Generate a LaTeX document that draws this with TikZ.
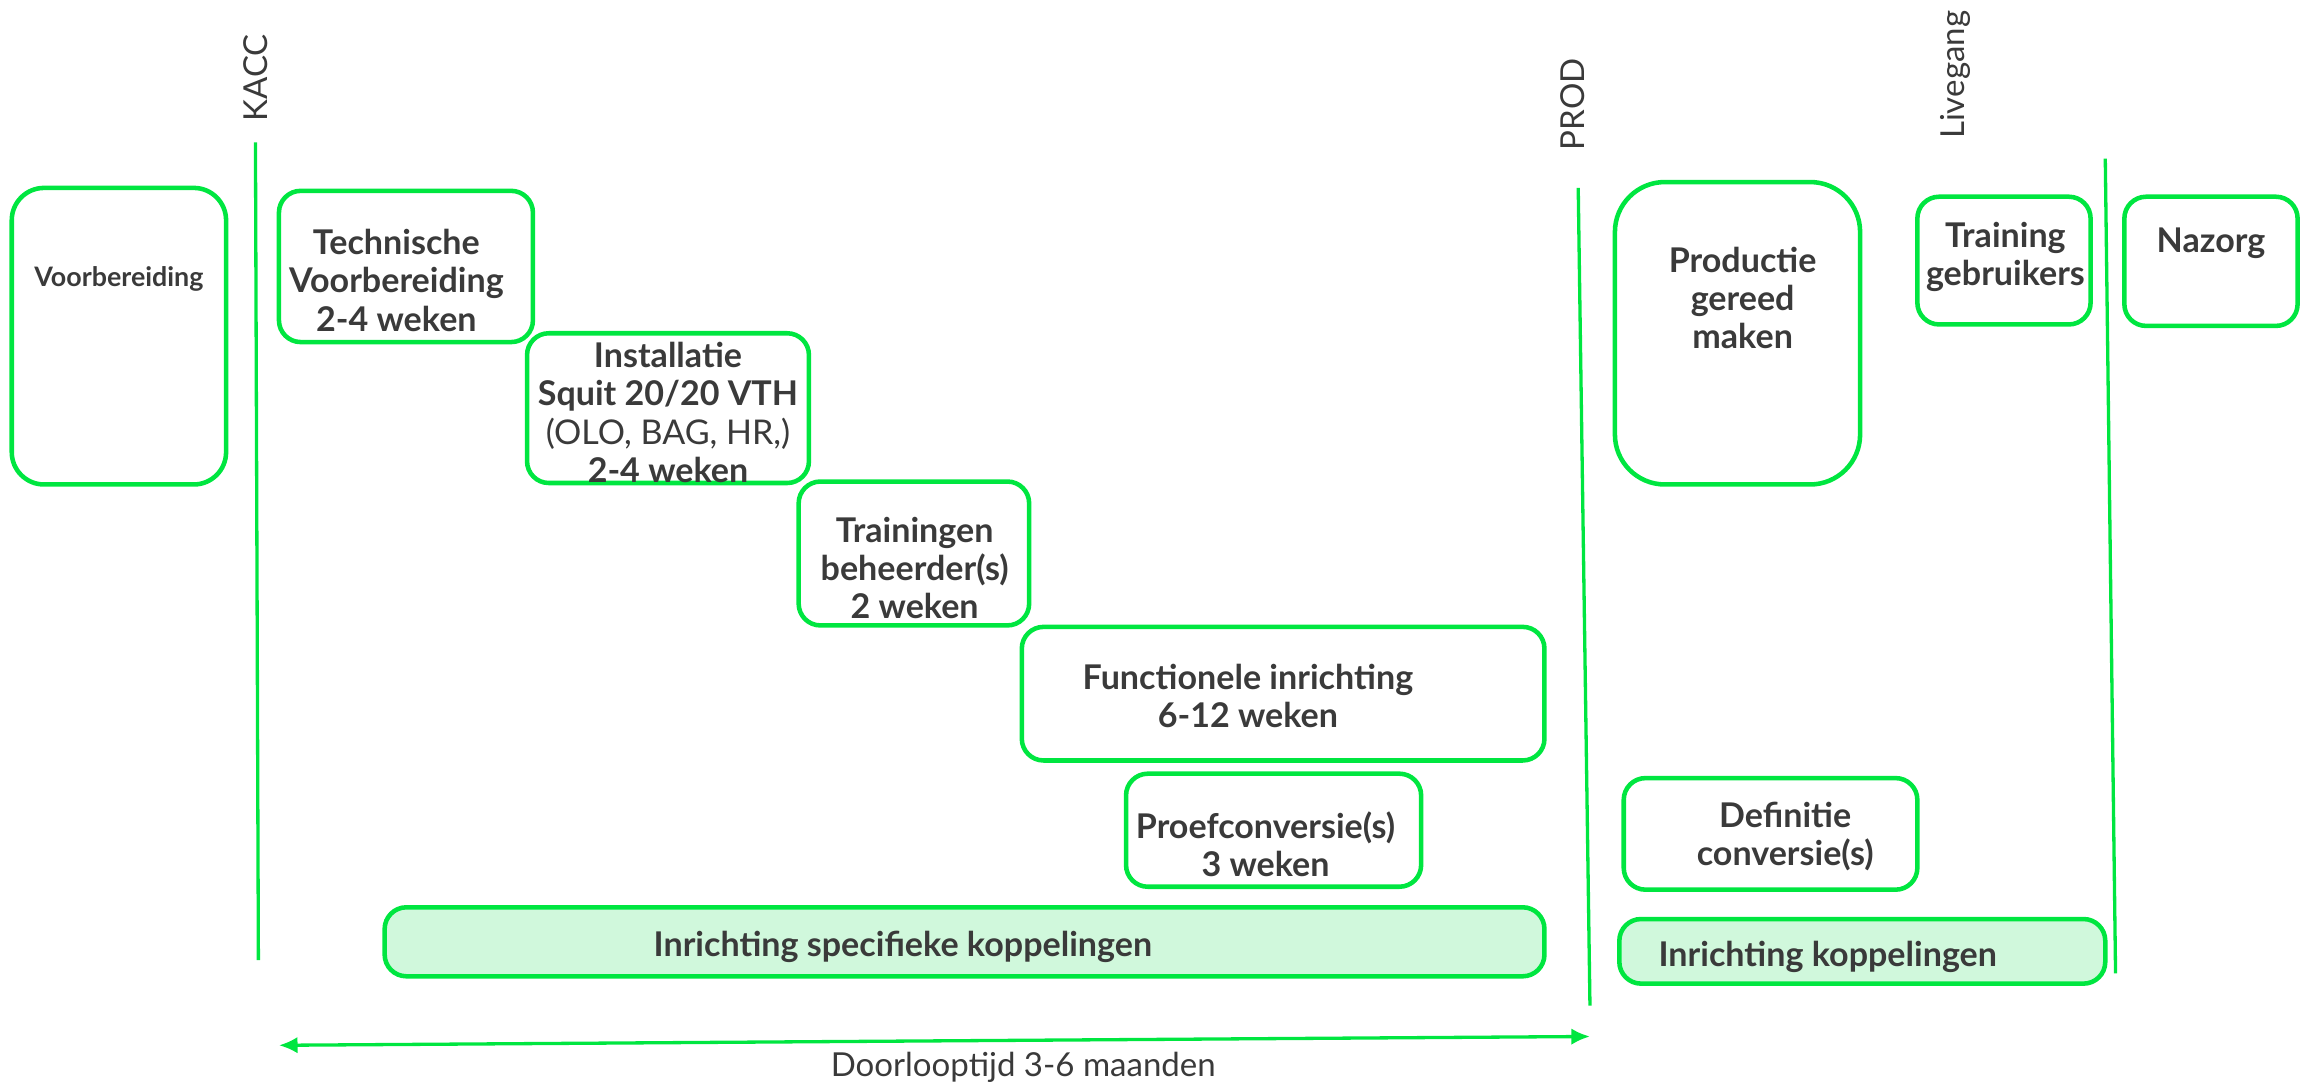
\documentclass[tikz,border=0pt]{standalone}
\usepackage{fontspec}
\setmainfont{Lato}
\usetikzlibrary{arrows.meta}
\definecolor{fasegroen}{HTML}{00E640}
\definecolor{lichtgroen}{HTML}{D0F8DC}
\definecolor{tekstgrijs}{HTML}{3A3A3A}

\begin{document}
\begin{tikzpicture}[x=0.025cm,y=-0.025cm,
  fase/.style={draw=fasegroen,line width=2.2pt,rounded corners=0.37cm},
  koppeling/.style={fase,fill=lichtgroen},
  mijlpaal/.style={draw=fasegroen,line width=1.6pt},
  tekst/.style={text=tekstgrijs,inner sep=0pt,align=center,
    font=\fontsize{16.5}{18.5}\selectfont\bfseries},
  mijltekst/.style={text=tekstgrijs,inner sep=0pt,rotate=90,
    font=\fontsize{16}{19}\selectfont}]
\useasboundingbox (0,0) rectangle (1568,741);

% Milestone lines
\draw[mijlpaal] (174,97) -- (176,654);
\draw[mijlpaal] (1075,128) -- (1083,685);
\draw[mijlpaal] (1434,108) -- (1441,663);
\node[mijltekst] (kacc) at (174,53) {KACC};
\node[mijltekst] (prod) at (1071,71) {PROD};
\node[mijltekst] (livegang) at (1332,51) {Livegang};

% Preparation
\draw[fase,rounded corners=0.55cm] (8,128) rectangle (154,330);
\node[tekst,font=\fontsize{13}{15}\selectfont\bfseries] (voorb) at (81,190) {Voorbereiding};

% KACC phases
\draw[fase] (190,130) rectangle (363,233);
\node[tekst] (techvoorb) at (270,191) {Technische\\Voorbereiding\\2-4 weken};
\draw[fase] (359,227) rectangle (551,329);
\node[tekst] (install) at (455,281) {Installatie\\Squit 20/20 VTH\\{\mdseries(OLO, BAG, HR,)}\\2-4 weken};
\draw[fase] (544,328) rectangle (701,426);
\node[tekst] (trainbeh) at (623,387) {Trainingen\\beheerder(s)\\2 weken};
\draw[fase] (696,427) rectangle (1052,518);
\node[tekst] (functioneel) at (850,474) {Functionele inrichting\\6-12 weken};
\draw[fase] (767,527) rectangle (968,604);
\node[tekst] (proefconv) at (862,575) {Proefconversie(s)\\3 weken};
\draw[koppeling] (262,618) rectangle (1052,665);
\node[tekst] (specifiek) at (615,645) {Inrichting specifieke koppelingen};

% PROD phases
\draw[fase,rounded corners=0.85cm] (1100,124) rectangle (1267,330);
\node[tekst] (productie) at (1187,203) {Productie\\gereed\\maken};
\draw[fase] (1306,134) rectangle (1424,221);
\node[tekst] (traingebr) at (1366,175) {Training\\gebruikers};
\draw[fase] (1447,134) rectangle (1565,222);
\node[tekst] (nazorg) at (1506,166) {Nazorg};
\draw[fase] (1106,530) rectangle (1306,606);
\node[tekst] (defconv) at (1216,570) {Definitie\\conversie(s)};
\draw[koppeling] (1103,626) rectangle (1434,670);
\node[tekst] (koppelingen) at (1245,652) {Inrichting koppelingen};

% Lead time
\coordinate (start) at (190,712);
\coordinate (eind) at (1083,706);
\draw[draw=fasegroen,line width=1.6pt,{Latex[length=9pt,width=8pt]}-{Latex[length=9pt,width=8pt]}] (start) -- (eind);
\node[text=tekstgrijs,inner sep=0pt,font=\fontsize{16}{19}\selectfont] (doorloop) at (697,727) {Doorlooptijd 3-6 maanden};
\end{tikzpicture}
\end{document}
